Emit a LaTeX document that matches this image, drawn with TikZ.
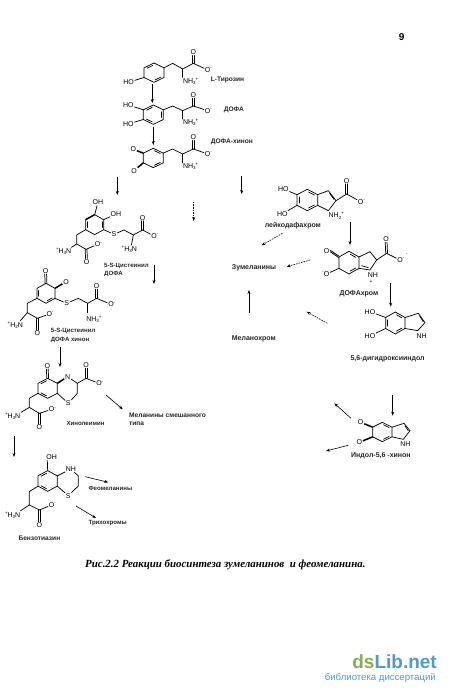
\documentclass[tikz,border=0pt]{standalone}
\usepackage{fontspec}
\setmainfont{Liberation Sans}
\newfontfamily\capfont{Liberation Serif}
\usetikzlibrary{arrows.meta,calc}
\definecolor{dsgreen}{HTML}{8CAB55}
\definecolor{dsblue}{HTML}{4F9CC6}
\tikzset{
  bnd/.style={line width=0.72pt,line cap=round,line join=round},
  wedgebond/.style={line width=1.5pt},
  atom/.style={font=\fontsize{7}{7}\selectfont,inner sep=0.7pt,text=black},
  lab/.style={font=\fontsize{6.6}{7}\selectfont\bfseries,inner sep=0pt,anchor=west,text=black!85},
  labw/.style={lab,font=\fontsize{7}{7}\selectfont\bfseries},
  labn/.style={lab,font=\fontsize{6.1}{7}\selectfont\bfseries},
  rarrow/.style={line width=0.6pt,-{Stealth[length=4pt,width=3pt]}},
  darrow/.style={line width=0.6pt,dash pattern=on 1.6pt off 1pt,-{Stealth[length=4pt,width=3pt]}}
}
\newcommand\tinyf{\fontsize{4.5}{5}\selectfont}
\newcommand\nhp[1]{NH\raisebox{-1.3pt}{\tinyf #1}\rlap{\raisebox{2.8pt}{\tinyf +}}}
\newcommand\hpn[1]{\llap{\raisebox{2.8pt}{\tinyf +}}H\raisebox{-1.3pt}{\tinyf #1}N}
% hexagon: centre x, centre y, half width, half height, prefix
\newcommand\hexa[5]{%
  \coordinate (#5c) at (#1,#2);
  \coordinate (#5t) at (#1,#2-#4);
  \coordinate (#5ur) at (#1+#3,#2-#4/2);
  \coordinate (#5lr) at (#1+#3,#2+#4/2);
  \coordinate (#5b) at (#1,#2+#4);
  \coordinate (#5ll) at (#1-#3,#2+#4/2);
  \coordinate (#5ul) at (#1-#3,#2-#4/2);
  \draw[bnd] (#5t)--(#5ur)--(#5lr)--(#5b)--(#5ll)--(#5ul)--cycle;}
% inner line of a double bond in ring: prefix, vertex, vertex
\newcommand\inbond[3]{\draw[bnd] ($(#1c)!0.78!(#1#2)!0.12!(#1#3)$) -- ($(#1c)!0.78!(#1#3)!0.12!(#1#2)$);}
% carboxylate: prefix, x, y, O x, O y, O- x, O- y
\newcommand\coo[7]{%
  \coordinate (#1a) at (#2,#3);
  \node[atom] (#1o) at (#4,#5) {O};
  \node[atom] (#1m) at (#6,#7) {O\rlap{\raisebox{2.6pt}{\tinyf -}}};
  \draw[bnd,shorten >=3.2pt] ([xshift=-0.9pt]#1a) -- ([xshift=-0.9pt]#1o.center);
  \draw[bnd,shorten >=3.2pt] ([xshift=0.9pt]#1a) -- ([xshift=0.9pt]#1o.center);
  \draw[bnd] (#1a) -- (#1m);}
% free reaction arrow: style, name, x1, y1, x2, y2
\newcommand\rarr[6]{%
  \coordinate (#2s) at (#3,#4); \coordinate (#2e) at (#5,#6);
  \draw[#1] (#2s) -- (#2e);}
\begin{document}
\begin{tikzpicture}[x=1pt,y=-1pt]
\useasboundingbox (0,0) rectangle (450,699);
\fill[white] (0,0) rectangle (450,699);

\node[font=\fontsize{10}{10}\selectfont\bfseries,inner sep=0pt] (pg) at (401.7,36.7) {9};

% ---- top column (zoom 1 frame)
\begin{scope}[shift={(110,20)},x=0.3333pt,y=-0.3333pt]
  % L-tyrosine
  \hexa{132}{158}{30}{29}{a}
  \inbond{a}{t}{ul} \inbond{a}{lr}{b}
  \node[atom] (a1) at (56,187) {HO};
  \draw[bnd] (all) -- (a1);
  \coo{ac}{250}{130}{250}{97}{293}{150}
  \draw[bnd] (aur) -- (188,130) -- (218,147) -- (250,130);
  \node[atom] (an) at (238,185) {\nhp{3}};
  \draw[bnd] (218,147) -- (218,172);
  \node[lab] (al) at (302,180) {L-Тирозин};
  % DOPA
  \hexa{130}{284}{30}{29}{b}
  \inbond{b}{t}{ul} \inbond{b}{ur}{lr} \inbond{b}{b}{ll}
  \node[atom] (b1) at (55,255) {HO};
  \node[atom] (b2) at (55,312) {HO};
  \draw[bnd] (bul) -- (b1) (bll) -- (b2);
  \coo{bc}{250}{258}{250}{225}{293}{272}
  \draw[bnd] (bur) -- (188,258) -- (218,272) -- (250,258);
  \node[atom] (bn) at (238,308) {\nhp{3}};
  \draw[bnd] (218,272) -- (218,297);
  \node[lab] (bl) at (341,270) {ДОФА};
  % DOPA quinone
  \hexa{130}{414}{30}{29}{c}
  \inbond{c}{t}{ur} \inbond{c}{lr}{b}
  \node[atom] (c1) at (70,388) {O};
  \node[atom] (c2) at (72,452) {O};
  \draw[wedgebond] (cul) -- (c1) (cll) -- (c2);
  \coo{cc}{250}{387}{250}{352}{293}{402}
  \draw[bnd] (cur) -- (188,387) -- (218,402) -- (250,387);
  \node[atom] (cn) at (238,438) {\nhp{3}};
  \draw[bnd] (218,402) -- (218,428);
  \node[lab] (cl) at (302,367) {ДОФА-хинон};
\end{scope}

% ---- cysteinyl compounds (zoom 2 frame)
\begin{scope}[shift={(0,170)},x=0.3333pt,y=-0.3333pt]
  \hexa{284}{164}{27}{30}{d}
  \inbond{d}{ll}{ul} \inbond{d}{ur}{lr}
  \draw[wedgebond] (dul) -- (dt);
  \node[atom] (d1) at (294,97) {OH};
  \node[atom] (d2) at (348,132) {OH};
  \draw[bnd] (dt) -- (d1) (dur) -- (d2);
  \node[atom] (d3) at (342,193) {S};
  \draw[bnd] (dlr) -- (d3);
  \coo{dc}{428}{180}{428}{143}{462}{198}
  \draw[bnd] (d3) -- (372,180) -- (400,195) -- (428,180);
  \node[atom] (dn) at (392,238) {\hpn{3}};
  \draw[bnd] (400,195) -- (dn);
  \coo{de}{258}{238}{260}{275}{293}{223}
  \node[atom] (dh) at (195,245) {\hpn{3}};
  \draw[bnd] (dll) -- (230,195) -- (230,222) -- (258,238);
  \draw[bnd] (230,222) -- (dh);
  \node[labn] (dl1) at (312,288) {5-S-Цистеинил};
  \node[labn] (dl2) at (312,311) {ДОФА};
  % quinone
  \hexa{138}{370}{27}{30}{e}
  \inbond{e}{ul}{ll} \inbond{e}{lr}{b}
  \node[atom] (e1) at (137,302) {O};
  \node[atom] (e2) at (198,335) {O};
  \draw[bnd] ([xshift=-0.9pt]et) -- ([xshift=-0.9pt]e1.south) ([xshift=0.9pt]et) -- ([xshift=0.9pt]e1.south);
  \draw[wedgebond] (eur) -- (e2);
  \node[atom] (e3) at (200,400) {S};
  \draw[bnd] (elr) -- (e3);
  \coo{ec}{290}{385}{290}{348}{333}{403}
  \draw[bnd] (e3) -- (235,385) -- (263,400) -- (290,385);
  \node[atom] (en) at (278,448) {\nhp{3}};
  \draw[bnd] (263,400) -- (263,428);
  \coo{ee}{112}{445}{112}{490}{148}{432}
  \node[atom] (eh) at (50,465) {\hpn{2}};
  \draw[bnd] (ell) -- (82,400) -- (82,428) -- (112,445);
  \draw[bnd] (82,428) -- (eh);
  \node[labn] (el1) at (152,484) {5-S-Цистеинил};
  \node[labn] (el2) at (152,510) {ДОФА хинон};
\end{scope}

% ---- quinoleimine, benzothiazine (zoom 4 frame)
\begin{scope}[shift={(0,350)},x=0.3333pt,y=-0.3333pt]
  \hexa{143}{115}{29}{30}{f}
  \inbond{f}{ul}{t} \inbond{f}{ll}{b}
  \node[atom] (f1) at (142,47) {O};
  \draw[bnd] ([xshift=-0.9pt]ft) -- ([xshift=-0.9pt]f1.south) ([xshift=0.9pt]ft) -- ([xshift=0.9pt]f1.south);
  \node[atom] (f2) at (203,80) {N};
  \draw[wedgebond] (fur) -- (f2);
  \node[atom] (f3) at (205,160) {S};
  \draw[bnd] (f2) -- (232,100) -- (232,130) -- (f3) (flr) -- (f3);
  \coo{fc}{258}{85}{258}{45}{297}{100}
  \draw[bnd] (232,100) -- (258,85);
  \coo{fe}{118}{190}{118}{232}{155}{178}
  \node[atom] (fh) at (42,200) {\hpn{3}};
  \draw[bnd] (fll) -- (88,145) -- (88,172) -- (118,190);
  \draw[bnd] (88,172) -- (fh);
  \node[labn] (fl) at (199,220) {Хинолеимин};
  \node[lab] (fm1) at (387,196) {Меланины смешанного};
  \node[lab] (fm2) at (387,222) {типа};
  % benzothiazine
  \hexa{143}{393}{29}{31}{g}
  \inbond{g}{ul}{t} \inbond{g}{ll}{b}
  \node[atom] (g1) at (155,322) {OH};
  \draw[bnd] (gt) -- (142,332);
  \node[atom] (g2) at (213,357) {NH};
  \draw[bnd] (gur) -- (g2);
  \node[atom] (g3) at (205,437) {S};
  \draw[bnd] (g2) -- (235,378) -- (235,408) -- (g3) (glr) -- (g3);
  \coo{ge}{118}{480}{118}{525}{155}{465}
  \node[atom] (gh) at (42,495) {\hpn{3}};
  \draw[bnd] (gll) -- (88,425) -- (88,465) -- (118,480);
  \draw[bnd] (88,465) -- (gh);
  \node[lab] (gl) at (55,566) {Бензотиазин};
  \node[labn] (gm) at (265,415) {Феомеланины};
  \node[labn] (gn) at (265,520) {Трихохромы};
\end{scope}

% ---- right column (zoom 3 frame)
\begin{scope}[shift={(225,170)},x=0.3333pt,y=-0.3333pt]
  % leucodopachrome
  \hexa{247}{90}{31}{32}{h}
  \inbond{h}{t}{ur} \inbond{h}{ul}{ll} \inbond{h}{lr}{b}
  \node[atom] (h1) at (175,57) {HO};
  \node[atom] (h2) at (172,132) {HO};
  \draw[bnd] (hul) -- (h1) (hll) -- (h2);
  \draw[bnd] (hur) -- (310,62) -- (333,92) -- (310,122) -- (hlr);
  \draw[bnd] (314,70) -- (327,88);
  \coo{hc}{365}{72}{365}{32}{407}{95}
  \draw[bnd] (333,92) -- (365,72);
  \node[atom] (hn) at (330,137) {\nhp{2}};
  \node[labw] (hl) at (119,167) {лейкодафахром};
  \node[labw] (hz) at (20,292) {Зумеланины};
  \node[labw] (hm) at (20,505) {Меланохром};
  % dopachrome
  \hexa{372}{278}{30}{34}{i}
  \inbond{i}{t}{ur} \inbond{i}{lr}{b}
  \node[atom] (i1) at (305,243) {O};
  \node[atom] (i2) at (305,312) {\llap{\raisebox{2.6pt}{\tinyf -}}O};
  \draw[bnd] ([yshift=-0.8pt]iul) -- ([yshift=-0.8pt]i1.east) ([yshift=0.8pt]iul) -- ([yshift=0.8pt]i1.east);
  \draw[bnd] (ill) -- (i2);
  \draw[bnd] (iur) -- (435,245) -- (455,270) -- (435,300) -- (ilr);
  \draw[bnd] (410,287) -- (430,293);
  \coo{ic}{485}{250}{483}{207}{525}{270}
  \draw[bnd] (455,270) -- (485,250);
  \node[atom] (idot) at (545,253) {$\cdot$};
  \node[atom] (in) at (444,315) {NH};
  \node[atom,font=\fontsize{5}{5}\selectfont] (ip) at (438,335) {+};
  \node[labw] (il) at (343,371) {ДОФАхром};
  % dihydroxyindole
  \hexa{511}{459}{29}{33}{j}
  \inbond{j}{t}{ur} \inbond{j}{ul}{ll} \inbond{j}{lr}{b}
  \node[atom] (j1) at (435,425) {HO};
  \node[atom] (j2) at (435,498) {HO};
  \draw[bnd] (jul) -- (j1) (jll) -- (j2);
  \draw[bnd] (jur) -- (580,430) -- (600,458) -- (578,482) -- (jlr);
  \draw[bnd] (584,438) -- (595,455);
  \node[atom] (jn) at (590,498) {NH};
  \node[labw] (jl) at (376,565) {5,6-дигидроксииндол};
\end{scope}

% ---- indolequinone (zoom 5 frame)
\begin{scope}[shift={(225,370)},x=0.3333pt,y=-0.3333pt]
  \hexa{472}{186}{29}{29}{k}
  \inbond{k}{t}{ur} \inbond{k}{lr}{b}
  \node[atom] (k1) at (407,157) {O};
  \node[atom] (k2) at (403,217) {O};
  \draw[wedgebond] (kul) -- (k1) (kll) -- (k2);
  \draw[bnd] (kur) -- (537,160) -- (555,182) -- (535,208) -- (klr);
  \draw[bnd] (540,168) -- (550,182);
  \node[atom] (kn) at (541,222) {NH};
  \node[labw] (kl) at (378,257) {Индол-5,6 -хинон};
\end{scope}

% ---- reaction arrows
\rarr{rarrow}{r1}{152.3}{84}{152.3}{103}
\rarr{rarrow}{r2}{153.3}{127.3}{153.3}{145}
\rarr{rarrow}{r3}{117.3}{177}{117.3}{195}
\rarr{rarrow}{r4}{241.7}{176}{241.7}{194}
\rarr{darrow}{r5}{193.7}{201.7}{193.7}{221}
\rarr{rarrow}{r6}{154}{265}{154}{284}
\rarr{rarrow}{r7}{60}{347}{60}{367}
\rarr{rarrow}{r8}{106}{395}{122.7}{409.3}
\rarr{rarrow}{r9}{14}{436}{14}{457}
\rarr{rarrow}{r10}{85.3}{476.7}{108.3}{482.3}
\rarr{rarrow}{r11}{76}{506}{96}{518}
\rarr{rarrow}{r12}{350}{221.7}{350}{245}
\rarr{darrow}{r13}{282.3}{233.3}{261.7}{245.3}
\rarr{darrow}{r14}{310}{260}{286.7}{266.7}
\rarr{rarrow}{r15}{390.7}{283.3}{390.7}{306.7}
\rarr{rarrow}{r16}{249}{313.3}{249}{290}
\rarr{darrow}{r17}{327.3}{323.3}{306.7}{311.7}
\rarr{rarrow}{r18}{392.7}{395}{392.7}{415.7}
\rarr{rarrow}{r19}{351}{418.3}{334.3}{403.3}
\rarr{rarrow}{r20}{348.3}{445.3}{326}{451}

% ---- caption and watermark
\node[font=\capfont\fontsize{10.9}{12}\selectfont\bfseries\itshape,inner sep=0pt,anchor=west] (cap) at (85,565) {Рис.2.2 Реакции биосинтеза зумеланинов\ \ и феомеланина.};
\node[font=\fontsize{19}{20}\selectfont\bfseries,inner sep=0pt,anchor=east] (wm1) at (437,662) {\textcolor{dsgreen}{ds}\textcolor{dsblue}{Lib.net}};
\node[font=\fontsize{9.6}{11}\selectfont,text=dsblue,inner sep=0pt,anchor=east] (wm2) at (436,678) {библиотека диссертаций};
\end{tikzpicture}
\end{document}
